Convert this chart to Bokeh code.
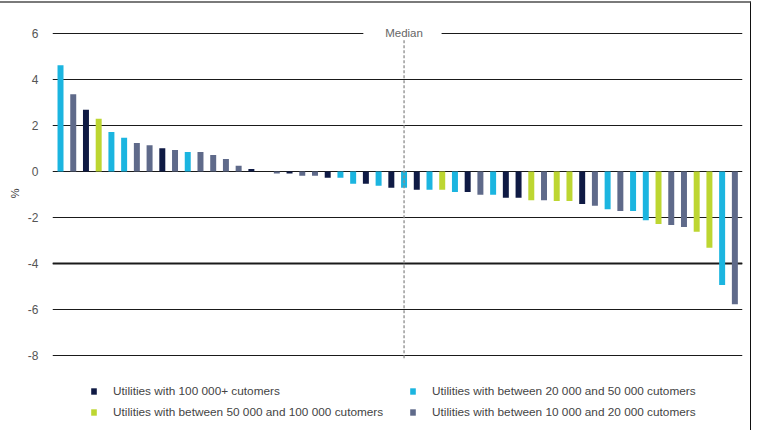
from bokeh.plotting import figure
from bokeh.models import (ColumnDataSource, CDSView, GroupFilter, Legend, LegendItem,
                          BoxAnnotation, Label, Span, FixedTicker, Title)
from bokeh.embed import file_html
from bokeh.resources import INLINE

# ---- data ----
values = [4.62, 3.36, 2.68, 2.29, 1.71, 1.46, 1.23, 1.14, 1.01, 0.93,
          0.84, 0.84, 0.71, 0.54, 0.25, 0.10, 0.0, -0.09, -0.09, -0.19,
          -0.19, -0.28, -0.28, -0.54, -0.54, -0.62, -0.71, -0.71, -0.80, -0.80,
          -0.80, -0.90, -0.90, -1.01, -1.01, -1.14, -1.14, -1.25, -1.25, -1.29,
          -1.29, -1.42, -1.49, -1.64, -1.72, -1.72, -2.12, -2.29, -2.33, -2.42,
          -2.62, -3.32, -4.94, -5.77]
groups = ["S", "XS", "L", "M", "S", "S", "XS", "XS", "L", "XS",
          "S", "XS", "XS", "XS", "XS", "L", "XS", "XS", "L", "XS",
          "XS", "L", "S", "S", "L", "S", "L", "S", "L", "S",
          "M", "S", "L", "XS", "S", "L", "L", "M", "XS", "M",
          "M", "L", "XS", "S", "XS", "S", "S", "M", "XS", "XS",
          "M", "M", "S", "XS"]
group_keys = ["L", "M", "S", "XS"]
group_labels = ["Utilities with 100 000+ cutomers",
                "Utilities with between 50 000 and 100 000 cutomers",
                "Utilities with between 20 000 and 50 000 cutomers",
                "Utilities with between 10 000 and 20 000 cutomers"]
group_colors = ["#0f1a44", "#bdd631", "#1bb5e0", "#5f6a8a"]
y_ticks = [-8, -6, -4, -2, 0, 2, 4, 6]
median_text = "Median"
y_title = "%"

FONT = "Liberation Sans, Arial, sans-serif"

positions = list(range(len(values)))
source = ColumnDataSource(dict(x=positions, top=values, group=groups))

p = figure(width=751, height=429,
           x_range=(-0.63, len(values) - 0.4), y_range=(-11.35, 6.3),
           x_axis_location=None, toolbar_location=None, output_backend="svg",
           min_border_left=52, min_border_right=9, min_border_top=23,
           min_border_bottom=0)
p.styles = {"margin-top": "1px", "border-top": "2px solid #7a7a7a",
            "border-right": "1px solid #111111"}
p.outline_line_color = None
p.background_fill_color = "white"
p.border_fill_color = "white"

p.xgrid.visible = False
p.yaxis.ticker = FixedTicker(ticks=y_ticks)
p.yaxis.major_label_overrides = {t: str(t) for t in y_ticks}
p.ygrid.grid_line_color = "#1a1a1a"
p.ygrid.grid_line_width = 1

p.yaxis.axis_line_color = None
p.yaxis.major_tick_line_color = None
p.yaxis.minor_tick_line_color = None
p.yaxis.major_label_standoff = 8
p.yaxis.major_label_text_font = FONT
p.yaxis.major_label_text_font_size = "12px"
p.yaxis.major_label_text_color = "#555555"

p.add_layout(Title(text=y_title, align="right", offset=162, standoff=8,
                   text_font=FONT, text_font_size="11px",
                   text_font_style="normal", text_color="#333333"), "left")

p.add_layout(Span(location=-4, dimension="width", line_color="#1a1a1a",
                  line_width=2, level="underlay"))

renderers = []
for key, color in zip(group_keys, group_colors):
    view = CDSView(filter=GroupFilter(column_name="group", group=key))
    r = p.vbar(x="x", top="top", bottom=0, width=0.47, source=source, view=view,
               fill_color=color, line_color=None)
    renderers.append(r)

median_idx = len(values) // 2
p.segment(x0=[median_idx], y0=[5.7], x1=[median_idx], y1=[-8.2],
          line_color="#8c8c8c", line_dash="3 2", line_width=1.3)
p.add_layout(BoxAnnotation(left=median_idx - 3.2, right=median_idx + 2.95,
                           bottom=5.8, top=6.2, fill_color="white", fill_alpha=1,
                           line_color=None))
p.add_layout(Label(x=median_idx, y=6, text=median_text, text_align="center",
                   text_baseline="alphabetic", text_font=FONT,
                   text_font_size="11.5px", text_color="#666666"))

legend = Legend(items=[LegendItem(label=lab, renderers=[r])
                       for lab, r in zip(group_labels, renderers)],
                orientation="vertical", ncols=2, location=(38, 13),
                glyph_width=7, glyph_height=8, label_standoff=16,
                label_width=289, label_height=14, spacing=7,
                padding=0, margin=0, border_line_color=None,
                background_fill_alpha=0,
                label_text_font=FONT, label_text_font_size="11.8px",
                label_text_color="#444444")
p.add_layout(legend)

open("out.html", "w").write(file_html(p, INLINE))
